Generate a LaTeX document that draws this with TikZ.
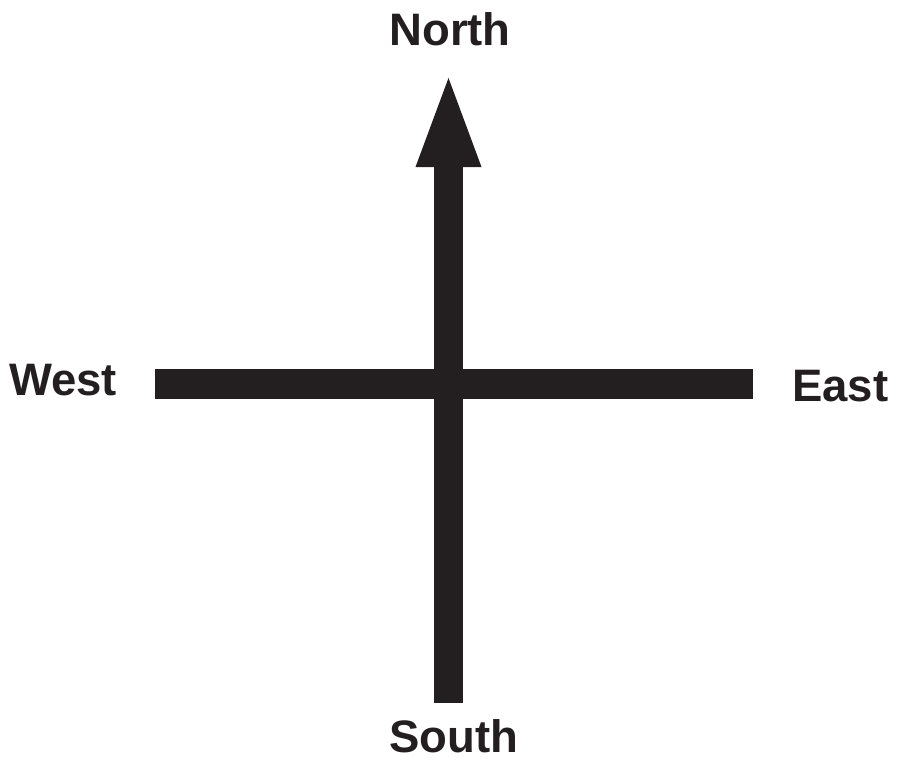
\documentclass[tikz,border=0pt]{standalone}
\usepackage{fontspec}
\setmainfont{Liberation Sans}
\usetikzlibrary{arrows.meta}
\definecolor{ink}{HTML}{231F20}
\tikzset{
  label/.style={font=\fontsize{45.5pt}{54pt}\selectfont\bfseries, text=ink, inner sep=0pt},
  bar/.style={draw=ink, line width=29.5pt, line cap=butt},
}
\begin{document}
\begin{tikzpicture}[x=1pt,y=1pt]
\useasboundingbox (0,0) rectangle (898,-760);
\coordinate (s) at (448.5,-703);
\coordinate (n) at (448.5,-78);
\coordinate (w) at (155,-384);
\coordinate (e) at (753,-384);
\draw[bar, -{Triangle[width=66pt,length=89pt,line width=0pt]}] (s) -- (n);
\draw[bar] (w) -- (e);
\node[label, anchor=base] (north) at (450,-46) {North};
\node[label, anchor=base west] (west) at (9,-395) {West};
\node[label, anchor=base west] (east) at (792,-401) {East};
\node[label, anchor=base] (south) at (453.5,-752) {South};
\end{tikzpicture}
\end{document}
